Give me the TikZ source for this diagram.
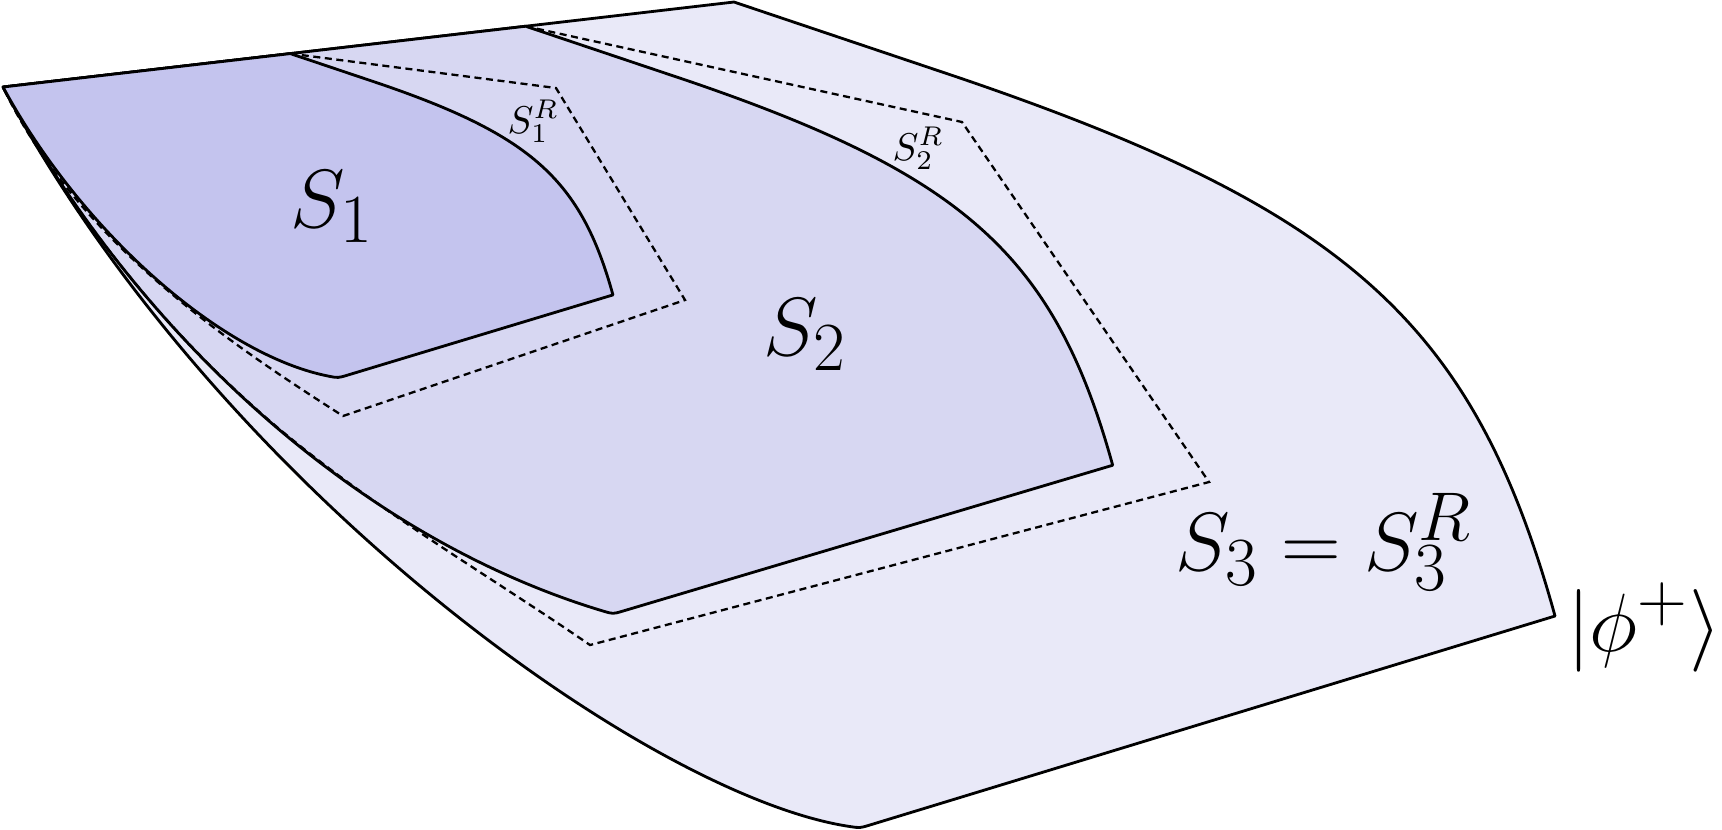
\documentclass[tikz,border=0pt]{standalone}
\usepackage{graphicx}
\usetikzlibrary{calc}
\definecolor{sone}{RGB}{196,196,238}
\definecolor{stwo}{RGB}{215,215,242}
\definecolor{sthree}{RGB}{233,233,248}
\newcommand{\biglabtext}[1]{\scalebox{0.945}{\Huge$#1$}}
\newcommand{\smalllabtext}[1]{\scalebox{1.1}{\normalsize$#1$}}
\begin{document}
\begin{tikzpicture}[x=0.01cm,y=-0.01cm,
  region/.style={draw=black,line width=0.8pt,line join=round},
  rbound/.style={draw=black,line width=0.65pt,dash pattern=on 2pt off 1.3pt},
  biglab/.style={inner sep=0pt,anchor=base west},
  smalllab/.style={inner sep=0pt,anchor=base west}]
\useasboundingbox (0,0) rectangle (1722,829);
% common corner
\coordinate (A) at (3,87);
% right rim of S3 (the rims of S2 and S1 are this one, shrunk towards A)
\coordinate (B3) at (734,2);
\coordinate (J3) at (957,77);
\coordinate (c31) at (1348,210);
\coordinate (c32) at (1474,323);
\coordinate (C3) at (1555,616);
\foreach \n in {B,J,c1,c2,C}{}
\coordinate (B2) at ($(A)!0.715!(B3)$);
\coordinate (J2) at ($(A)!0.715!(J3)$);
\coordinate (c21) at ($(A)!0.715!(c31)$);
\coordinate (c22) at ($(A)!0.715!(c32)$);
\coordinate (C2) at ($(A)!0.715!(C3)$);
\coordinate (B1) at ($(A)!0.393!(B3)$);
\coordinate (J1) at ($(A)!0.393!(J3)$);
\coordinate (c11) at ($(A)!0.393!(c31)$);
\coordinate (c12) at ($(A)!0.393!(c32)$);
\coordinate (C1) at ($(A)!0.393!(C3)$);
% bottom corners and lower curves
\coordinate (D3) at (860,828);
\coordinate (q3b) at (650,797);
\coordinate (q3a) at (217,487);
\coordinate (D2) at (613,614);
\coordinate (q2b) at (369,541);
\coordinate (q2a) at (143,346);
\coordinate (D1) at (338,378);
\coordinate (q1b) at (222,355);
\coordinate (q1a) at (82,233);
% S1^R
\coordinate (R1a) at (556,88);
\coordinate (R1b) at (685,300);
\coordinate (R1c) at (343,416);
% S2^R
\coordinate (R2a) at (962,122);
\coordinate (R2b) at (1209,482);
\coordinate (R2c) at (590,645);
\coordinate (R2m) at (269,420.25);

% S3
\path[region,fill=sthree] (A) -- (B3) -- (J3) .. controls (c31) and (c32) .. (C3)
  -- ($(D3)!0.1cm!(C3)$) .. controls (D3) .. ($(D3)!0.1cm!(q3b)$)
  .. controls (q3b) and (q3a) .. (A) -- cycle;
% S2
\path[region,fill=stwo] (A) -- (B2) -- (J2) .. controls (c21) and (c22) .. (C2)
  -- ($(D2)!0.1cm!(C2)$) .. controls (D2) .. ($(D2)!0.1cm!(q2b)$)
  .. controls (q2b) and (q2a) .. (A) -- cycle;
% S2^R
\draw[rbound] (B2) -- (R2a) -- (R2b) -- (R2c) .. controls (490,576) and (369,506) .. (R2m)
  .. controls (164.5,330) and (73,216.5) .. (A);
% S1
\path[region,fill=sone] (A) -- (B1) -- (J1) .. controls (c11) and (c12) .. (C1)
  -- ($(D1)!0.1cm!(C1)$) .. controls (D1) .. ($(D1)!0.1cm!(q1b)$)
  .. controls (q1b) and (q1a) .. (A) -- cycle;
% S1^R
\draw[rbound] (B1) -- (R1a) -- (R1b) -- (R1c) .. controls (240,350) and (78,245) .. (A);

% labels
\node[biglab] (l1) at (290,227) {\biglabtext{S_1}};
\node[biglab] (l2) at (763,355) {\biglabtext{S_2}};
\node[biglab] (l3) at (1175,570) {\biglabtext{S_3=S_3^R}};
\node[biglab,anchor=base east] (lphi) at (1722,651) {\biglabtext{|\phi^+\rangle}};
\node[smalllab] (l1r) at (507,133) {\smalllabtext{S_1^R}};
\node[smalllab] (l2r) at (892,160) {\smalllabtext{S_2^R}};
\end{tikzpicture}
\end{document}
